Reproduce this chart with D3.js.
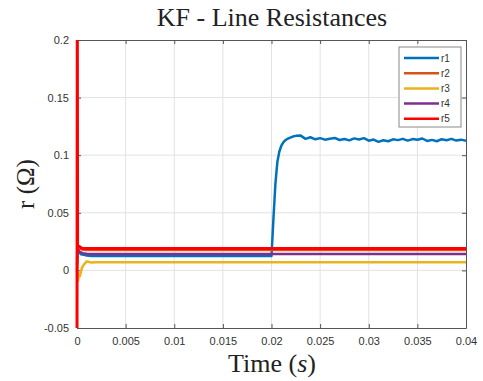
<!DOCTYPE html>
<html>
<head>
<meta charset="utf-8">
<script src="https://cdn.jsdelivr.net/npm/d3@7"></script>
<style>
  body { margin: 0; background: #fff; }
  svg { display: block; }
</style>
</head>
<body>
<div id="chart"></div>
<script>
// tick labels
const xTicks = [0, 0.005, 0.01, 0.015, 0.02, 0.025, 0.03, 0.035, 0.04];
const xTickLabels = ["0", "0.005", "0.01", "0.015", "0.02", "0.025", "0.03", "0.035", "0.04"];
const yTicks = [-0.05, 0, 0.05, 0.1, 0.15, 0.2];
const yTickLabels = ["-0.05", "0", "0.05", "0.1", "0.15", "0.2"];

const seriesNames = ["r1", "r2", "r3", "r4", "r5"];
const seriesColors = ["#0072BD", "#D95319", "#EDB120", "#7E2F8E", "#FF0000"];

// r1: settles low, steps up at t = 0.02
const r1Time = [0, 0.0001, 0.0002, 0.0004, 0.0007, 0.001, 0.0015, 0.002, 0.02,
  0.0202, 0.0204, 0.0206, 0.0208, 0.021, 0.0212, 0.0214, 0.0216, 0.0218, 0.022, 0.0222,
  0.0225, 0.023, 0.0235, 0.024, 0.0245, 0.025, 0.0255, 0.026, 0.0265, 0.027, 0.0275,
  0.028, 0.0285, 0.029, 0.0295, 0.03, 0.0305, 0.031, 0.0315, 0.032, 0.0325, 0.033,
  0.0335, 0.034, 0.0345, 0.035, 0.0355, 0.036, 0.0365, 0.037, 0.0375, 0.038, 0.0385,
  0.039, 0.0395, 0.04];
const r1Values = [0.005, 0.019, 0.016, 0.014, 0.0135, 0.013, 0.0125, 0.0125, 0.0125,
  0.045, 0.075, 0.094, 0.103, 0.108, 0.111, 0.1128, 0.1140, 0.1148, 0.1155, 0.1162,
  0.1168, 0.1170, 0.1142, 0.1156, 0.1138, 0.1148, 0.1135, 0.1143, 0.1150, 0.1132, 0.1141,
  0.1129, 0.1146, 0.1137, 0.1148, 0.1126, 0.1136, 0.1116, 0.1130, 0.1121, 0.1138, 0.1131,
  0.1142, 0.1127, 0.1140, 0.1134, 0.1145, 0.1124, 0.1133, 0.1121, 0.1139, 0.1130, 0.1142,
  0.1127, 0.1135, 0.1126];

const r2Time = [0, 0.0001, 0.0003, 0.0006, 0.001, 0.04];
const r2Values = [0.0, 0.021, 0.019, 0.018, 0.0178, 0.0178];

const r3Time = [0, 0.0001, 0.0002, 0.0003, 0.0005, 0.0007, 0.001, 0.0015, 0.002, 0.04];
const r3Values = [0.0, -0.009, -0.003, -0.005, 0.002, 0.005, 0.0078, 0.0068, 0.0070, 0.0070];

const r4Time = [0, 0.0001, 0.0003, 0.0006, 0.001, 0.002, 0.04];
const r4Values = [0.01, 0.018, 0.016, 0.015, 0.0145, 0.0142, 0.0142];

const r5Time = [0, 0.00003, 0.00006, 0.0002, 0.0005, 0.001, 0.04];
const r5Values = [-0.07, 0.25, 0.02, 0.021, 0.0192, 0.019, 0.019];

const seriesTimes = [r1Time, r2Time, r3Time, r4Time, r5Time];
const seriesValues = [r1Values, r2Values, r3Values, r4Values, r5Values];

function renderChart() {
  const width = 483, height = 381;
  const margin = {left: 77, right: 17, top: 40, bottom: 53};
  const innerW = width - margin.left - margin.right;
  const innerH = height - margin.top - margin.bottom;

  const x = d3.scaleLinear().domain([0, 0.04]).range([0, innerW]);
  const y = d3.scaleLinear().domain([-0.05, 0.2]).range([innerH, 0]);

  const svg = d3.select("#chart").append("svg")
    .attr("width", width)
    .attr("height", height)
    .style("background", "#fff");

  const g = svg.append("g").attr("transform", `translate(${margin.left},${margin.top})`);

  // clip only top/bottom, leave room for the thick line at t = 0
  g.append("defs").append("clipPath").attr("id", "plotClip")
    .append("rect").attr("x", -3).attr("width", innerW + 3).attr("height", innerH);

  // grid
  g.append("g").selectAll("line.gx").data(xTicks.slice(1, -1)).join("line")
    .attr("x1", d => x(d)).attr("x2", d => x(d))
    .attr("y1", 0).attr("y2", innerH)
    .attr("stroke", "#e2e2e2").attr("stroke-width", 1);
  g.append("g").selectAll("line.gy").data(yTicks.slice(1, -1)).join("line")
    .attr("x1", 0).attr("x2", innerW)
    .attr("y1", d => y(d)).attr("y2", d => y(d))
    .attr("stroke", "#e2e2e2").attr("stroke-width", 1);

  // axes (box on, ticks inward)
  const axisColor = "#555";
  const fmtX = d => xTickLabels[xTicks.indexOf(d)];
  const fmtY = d => yTickLabels[yTicks.indexOf(d)];

  const xAxis = g.append("g").attr("transform", `translate(0,${innerH})`)
    .call(d3.axisBottom(x).tickValues(xTicks).tickFormat(fmtX).tickSizeInner(-4).tickSizeOuter(0).tickPadding(9));
  const yAxis = g.append("g")
    .call(d3.axisLeft(y).tickValues(yTicks).tickFormat(fmtY).tickSizeInner(-4).tickSizeOuter(0).tickPadding(8));
  const xTop = g.append("g")
    .call(d3.axisTop(x).tickValues(xTicks).tickFormat("").tickSizeInner(-4).tickSizeOuter(0));
  const yRight = g.append("g").attr("transform", `translate(${innerW},0)`)
    .call(d3.axisRight(y).tickValues(yTicks).tickFormat("").tickSizeInner(-4).tickSizeOuter(0));

  [xAxis, yAxis, xTop, yRight].forEach(a => {
    a.selectAll(".domain").attr("stroke", axisColor);
    a.selectAll(".tick line").attr("stroke", axisColor);
    a.selectAll("text")
      .attr("fill", "#333")
      .style("font-family", "'Liberation Sans', Arial, sans-serif")
      .style("font-size", "11px");
  });

  // lines
  const line = d3.line().x(d => x(d[0])).y(d => y(d[1]));
  const lines = g.append("g").attr("clip-path", "url(#plotClip)");
  seriesNames.forEach((name, i) => {
    const pts = seriesTimes[i].map((t, j) => [t, seriesValues[i][j]]);
    lines.append("path")
      .datum(pts)
      .attr("d", line)
      .attr("fill", "none")
      .attr("stroke", seriesColors[i])
      .attr("stroke-width", i === 4 ? 3 : 2.5)
      .attr("stroke-linejoin", "round");
  });

  // legend
  const leg = g.append("g").attr("transform", `translate(${399 - margin.left},${47 - margin.top})`);
  leg.append("rect").attr("width", 62).attr("height", 80)
    .attr("fill", "#fff").attr("stroke", "#888").attr("stroke-width", 1);
  seriesNames.forEach((name, i) => {
    const yy = 11 + i * 15.2;
    leg.append("line").attr("x1", 5).attr("x2", 40).attr("y1", yy).attr("y2", yy)
      .attr("stroke", seriesColors[i]).attr("stroke-width", 2.5);
    leg.append("text").attr("x", 42).attr("y", yy + 3.5).text(name)
      .attr("fill", "#333")
      .style("font-family", "'Liberation Sans', Arial, sans-serif")
      .style("font-size", "10px");
  });

  // title and labels
  svg.append("text")
    .attr("x", 272).attr("y", 26)
    .attr("text-anchor", "middle")
    .attr("fill", "#222")
    .style("font-family", "'Liberation Serif', 'Times New Roman', serif")
    .style("font-size", "26px")
    .text("KF - Line Resistances");

  const xl = svg.append("text")
    .attr("x", 272).attr("y", 372)
    .attr("text-anchor", "middle")
    .attr("fill", "#222")
    .style("font-family", "'Liberation Serif', 'Times New Roman', serif")
    .style("font-size", "26px");
  xl.append("tspan").text("Time (");
  xl.append("tspan").attr("font-style", "italic").text("s");
  xl.append("tspan").text(")");

  svg.append("text")
    .attr("transform", "translate(34,184) rotate(-90)")
    .attr("text-anchor", "middle")
    .attr("fill", "#222")
    .style("font-family", "'Liberation Serif', 'Times New Roman', serif")
    .style("font-size", "25px")
    .text("r (Ω)");
}

document.addEventListener("DOMContentLoaded", function () {
  renderChart();
});
</script>
</body>
</html>
